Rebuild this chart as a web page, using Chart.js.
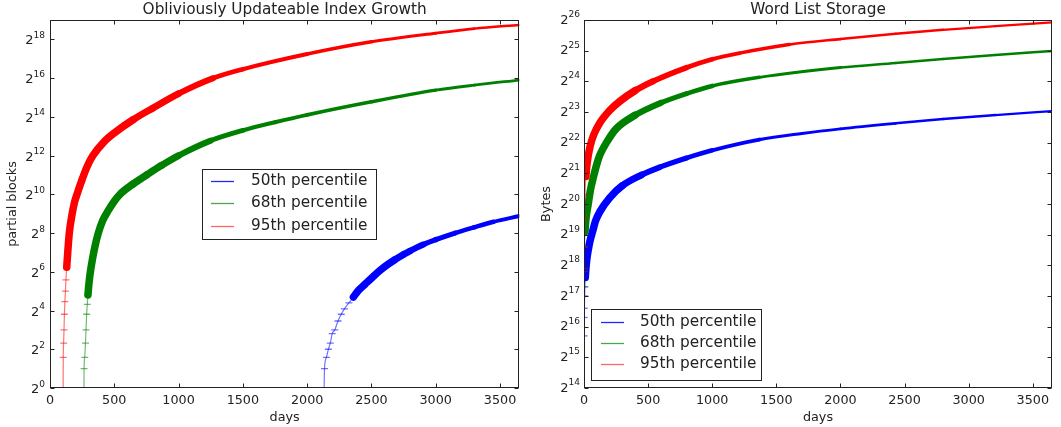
<!DOCTYPE html>
<html>
<head>
<meta charset="utf-8">
<script src="https://cdn.jsdelivr.net/npm/chart.js@4.4.1/dist/chart.umd.min.js"></script>
<style>
  html, body { margin: 0; padding: 0; background: #fff; }
  #wrap { position: relative; width: 1061px; height: 427px; }
  canvas { position: absolute; top: 0; }
</style>
</head>
<body>
<div id="wrap">
  <canvas id="idx" width="530" height="427" style="left:0"></canvas>
  <canvas id="words" width="531" height="427" style="left:530px"></canvas>
</div>
<script>
// ---- data ----
const seriesLabels = ["50th percentile", "68th percentile", "95th percentile"];
const dayTicks = [0, 500, 1000, 1500, 2000, 2500, 3000, 3500];

// Obliviously Updateable Index Growth (partial blocks)
const idx50Days = [2132, 2135, 2150, 2165, 2180, 2195, 2215, 2240, 2265, 2290, 2325, 2360, 2400, 2450, 2500, 2550, 2600, 2680, 2750, 2800, 2900, 3000, 3150, 3300, 3450, 3650];
const idx50Blocks = [1, 2, 3, 4, 5, 7, 8, 11, 14, 17, 21, 26, 33, 41, 51, 63, 76, 98, 119, 135, 169, 202, 256, 315, 383, 471];
const idx68Days = [264, 265, 270, 276, 280, 285, 290, 295, 306, 318, 330, 350, 376, 410, 450, 500, 544, 650, 752, 870, 1000, 1250, 1500, 1750, 2000, 2500, 3000, 3300, 3650];
const idx68Blocks = [1, 2, 3, 5, 8, 14, 20, 28, 48, 72, 100, 160, 256, 400, 560, 800, 1024, 1500, 2048, 2900, 4096, 7000, 10100, 13500, 17600, 28100, 42600, 51000, 61000];
const idx95Days = [102, 103, 106, 109, 112, 116, 120, 124, 130, 137, 150, 170, 190, 210, 250, 290, 334, 420, 500, 646, 800, 1000, 1270, 1500, 2000, 2500, 3000, 3300, 3650];
const idx95Blocks = [1, 3, 5, 8, 14, 22, 32, 48, 75, 120, 256, 480, 760, 1024, 1750, 2800, 4096, 6700, 9200, 14770, 22370, 37600, 65500, 90000, 155000, 240000, 327000, 385000, 440000];
const idxYTicks = [1, 4, 16, 64, 256, 1024, 4096, 16384, 65536, 262144];

// Word List Storage (bytes)
const words50Days = [1, 2, 3, 5, 7, 10, 15, 22, 33, 47, 67, 90, 124, 200, 300, 450, 591, 800, 1000, 1368, 1700, 2000, 2431, 2800, 3208, 3650];
const words50Bytes = [53230, 80680, 99330, 131072, 161370, 198670, 244600, 301130, 370730, 456420, 561900, 716180, 881700, 1204500, 1589300, 2025800, 2409000, 2965800, 3527000, 4495400, 5163600, 5730000, 6491000, 7152600, 7827000, 8565000];
const words68Days = [1, 2, 4, 8, 15, 33, 50, 72, 100, 124, 175, 250, 400, 600, 800, 1000, 1368, 2000, 2431, 2800, 3208, 3650];
const words68Bytes = [161370, 244600, 397300, 561900, 741500, 1048576, 1432400, 1890100, 2581800, 3178700, 4194304, 5730000, 7827000, 10327000, 12714700, 15120500, 18359000, 22918000, 25430000, 27827000, 30451000, 33323000];
const words95Days = [1, 2, 4, 8, 15, 25, 47, 75, 124, 200, 280, 400, 537, 800, 1000, 1213, 1600, 2000, 2431, 2800, 3208, 3650];
const words95Bytes = [228210, 397300, 741500, 1290900, 1956800, 2673000, 3833000, 4988000, 6582000, 8685000, 10692000, 13627000, 16777216, 22918000, 27636000, 31744000, 38544000, 43664000, 49127000, 53757000, 58421000, 63488000];
const wordsYTicks = [16384, 32768, 65536, 131072, 262144, 524288, 1048576, 2097152, 4194304, 8388608, 16777216, 33554432, 67108864];

// ---- style ----
const INK = "#222";
const FAMILY = "DejaVu Sans";
const lineColors = ["#0000ff", "#008000", "#ff0000"];
const markColors = ["rgba(0,0,255,0.55)", "rgba(0,128,0,0.55)", "rgba(255,0,0,0.55)"];
const keyColors = ["rgba(0,0,255,0.85)", "rgba(0,128,0,0.7)", "rgba(255,0,0,0.6)"];

// Where the daily '+' markers sit apart the trace is a thin line with ticks;
// elsewhere they pile up into a band that is wider on steep stretches.
function sparseStep(yScale, days, vals, k) {
  if (k < 1 || k >= vals.length) return false;
  const dy = Math.abs(yScale.getPixelForValue(vals[k]) - yScale.getPixelForValue(vals[k - 1]));
  return dy / Math.max(1, days[k] - days[k - 1]) > 2 || vals[k] < 30;
}
function bandWidth(s) {
  const dx = s.p1.x - s.p0.x, dy = s.p1.y - s.p0.y;
  const sin = Math.abs(dy) / (Math.hypot(dx, dy) || 1);
  return Math.min(7.5, Math.max(2.2, 1.6 + 10.6 * sin));
}

function series(days, vals, i) {
  let chartRef = null;
  const isSparse = k => chartRef && sparseStep(chartRef.scales.y, days, vals, k);
  return {
    label: seriesLabels[i],
    data: days.map((d, k) => ({ x: d, y: vals[k] })),
    borderColor: lineColors[i],
    borderWidth: 2.2,
    borderCapStyle: "round",
    borderJoinStyle: "round",
    segment: {
      borderWidth: s => { chartRef = s.chart || chartRef; return isSparse(s.p1DataIndex) ? 1.2 : bandWidth(s); },
      borderColor: s => isSparse(s.p1DataIndex) ? markColors[i] : lineColors[i],
    },
    pointStyle: "line",
    pointRadius: c => { chartRef = c.chart; return (isSparse(c.dataIndex) || isSparse(c.dataIndex + 1)) ? 3.5 : 0; },
    pointBorderWidth: 1.3,
    pointBorderColor: markColors[i],
    cubicInterpolationMode: "monotone",
    keyColor: keyColors[i],
    order: 2 - i,
  };
}

// spines + inward ticks on all four sides
const frame = {
  id: "frame",
  afterDraw(chart) {
    const { ctx, chartArea: a, scales: { x, y } } = chart;
    const L = Math.round(a.left) + 0.5, R = Math.round(a.right) - 0.5;
    const T = Math.round(a.top) + 0.5, B = Math.round(a.bottom) - 0.5;
    ctx.save();
    ctx.strokeStyle = INK;
    ctx.lineWidth = 1;
    ctx.strokeRect(L, T, R - L, B - T);
    ctx.beginPath();
    x.ticks.forEach(t => {
      const px = Math.round(x.getPixelForValue(t.value)) + 0.5;
      ctx.moveTo(px, B); ctx.lineTo(px, B - 4);
      ctx.moveTo(px, T); ctx.lineTo(px, T + 4);
    });
    y.ticks.forEach(t => {
      const py = Math.round(y.getPixelForValue(t.value)) + 0.5;
      ctx.moveTo(L, py); ctx.lineTo(L + 4, py);
      ctx.moveTo(R, py); ctx.lineTo(R - 4, py);
    });
    ctx.stroke();
    ctx.restore();
  }
};

// "2" with a raised exponent for the log2 axis
const powerTicks = {
  id: "powerTicks",
  afterDraw(chart, args, o) {
    const { ctx, scales: { y } } = chart;
    ctx.save();
    ctx.fillStyle = INK;
    ctx.textAlign = "right";
    ctx.textBaseline = "alphabetic";
    y.ticks.forEach(t => {
      const py = y.getPixelForValue(t.value);
      const exp = String(Math.round(Math.log2(t.value)));
      const right = chart.chartArea.left - o.pad;
      ctx.font = `9px "${FAMILY}"`;
      const ew = ctx.measureText(exp).width;
      ctx.fillText(exp, right, py + o.expShift);
      ctx.font = `13px "${FAMILY}"`;
      ctx.fillText("2", right - ew, py + o.baseShift);
    });
    ctx.restore();
  }
};

const legendBox = {
  id: "legendBox",
  afterDraw(chart, args, o) {
    const ctx = chart.ctx;
    ctx.save();
    ctx.fillStyle = "#fff";
    ctx.fillRect(o.x, o.y, o.w, o.h);
    ctx.strokeStyle = INK;
    ctx.lineWidth = 1;
    ctx.strokeRect(o.x + 0.5, o.y + 0.5, o.w, o.h);
    ctx.font = `15.3px "${FAMILY}"`;
    ctx.textBaseline = "middle";
    ctx.textAlign = "left";
    chart.data.datasets.forEach((ds, i) => {
      const ry = Math.round(o.y + o.first + i * o.step) + 0.5;
      ctx.strokeStyle = ds.keyColor;
      ctx.lineWidth = 1.3;
      ctx.beginPath();
      ctx.moveTo(o.x + o.line0, ry);
      ctx.lineTo(o.x + o.line1, ry);
      ctx.stroke();
      ctx.fillStyle = INK;
      ctx.fillText(ds.label, o.x + o.text, ry);
    });
    ctx.restore();
  }
};

const tickFont = { family: FAMILY, size: 12.75 };

function build(id, cfg) {
  const chart = new Chart(document.getElementById(id), {
    type: "line",
    data: { datasets: cfg.datasets },
    plugins: [frame, powerTicks, legendBox],
    options: {
      responsive: false,
      devicePixelRatio: 1,
      animation: false,
      events: [],
      layout: { padding: { left: 0, right: cfg.padRight, top: 0, bottom: 0 } },
      plugins: {
        legend: { display: false },
        tooltip: { enabled: false },
        title: {
          display: true, text: cfg.title, fullSize: false, color: INK,
          font: { family: FAMILY, size: 15.3, weight: "normal" },
          padding: { top: 1, bottom: 0.64 },
        },
        powerTicks: cfg.powerTicks,
        legendBox: cfg.legend,
      },
      scales: {
        x: {
          type: "linear", min: 0, max: 3650,
          afterBuildTicks: s => { s.ticks = dayTicks.map(v => ({ value: v })); },
          afterFit: s => { s.height = 39; },
          grid: { display: false, drawTicks: false },
          border: { display: false },
          ticks: { color: INK, font: tickFont, padding: 5, maxRotation: 0, autoSkip: false, callback: v => String(v) },
          title: { display: true, text: "days", color: INK, font: tickFont, padding: { top: 0, bottom: 2 } },
        },
        y: {
          type: "logarithmic", min: cfg.yMin, max: cfg.yMax,
          afterBuildTicks: s => { s.ticks = cfg.yTicks.map(v => ({ value: v })); },
          afterFit: s => { s.width = cfg.yWidth; },
          grid: { display: false, drawTicks: false },
          border: { display: false },
          ticks: { display: false },
          title: { display: true, text: cfg.yTitle, color: INK, font: tickFont, padding: { top: cfg.yTitlePad, bottom: 0 } },
        },
      },
    },
  });
  // second pass so the segment/point styles see the laid-out scales
  chart.update("none");
}

build("idx", {
  title: "Obliviously Updateable Index Growth",
  yTitle: "partial blocks",
  yTitlePad: 5,
  yWidth: 50,
  padRight: 10.7,
  yMin: 1, yMax: 524288,
  yTicks: idxYTicks,
  datasets: [
    series(idx50Days, idx50Blocks, 0),
    series(idx68Days, idx68Blocks, 1),
    series(idx95Days, idx95Blocks, 2),
  ],
  powerTicks: { pad: 5, baseShift: 5, expShift: -1.5 },
  legend: { x: 202, y: 169, w: 174, h: 70, first: 11.5, step: 22.6, line0: 9, line1: 32, text: 49 },
});

build("words", {
  title: "Word List Storage",
  yTitle: "Bytes",
  yTitlePad: 9,
  yWidth: 54,
  padRight: 9,
  yMin: 16384, yMax: 67108864,
  yTicks: wordsYTicks,
  datasets: [
    series(words50Days, words50Bytes, 0),
    series(words68Days, words68Bytes, 1),
    series(words95Days, words95Bytes, 2),
  ],
  powerTicks: { pad: 4, baseShift: 3.5, expShift: -3 },
  legend: { x: 61, y: 309, w: 170, h: 71, first: 12.5, step: 21.4, line0: 10, line1: 33, text: 49 },
});
</script>
</body>
</html>
